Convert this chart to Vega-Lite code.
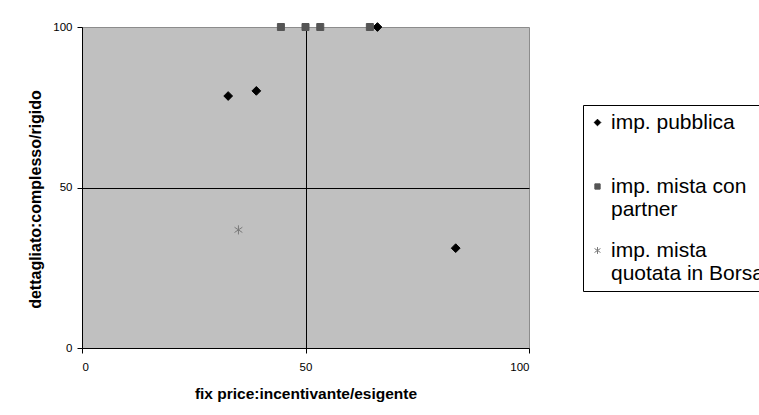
{
  "$schema": "https://vega.github.io/schema/vega-lite/v6.json",
  "autosize": {"type": "none"},
  "width": 447,
  "height": 321,
  "padding": {"left": 82, "top": 27, "right": 230, "bottom": 67},
  "background": "white",
  "data": {
    "values": [
      {"serie": "imp. pubblica", "x": 32.7, "y": 78.5},
      {"serie": "imp. pubblica", "x": 39.0, "y": 80.1},
      {"serie": "imp. pubblica", "x": 66.1, "y": 100},
      {"serie": "imp. pubblica", "x": 83.6, "y": 31.1},
      {"serie": "imp. mista con partner", "x": 44.5, "y": 100},
      {"serie": "imp. mista con partner", "x": 50.0, "y": 100},
      {"serie": "imp. mista con partner", "x": 53.3, "y": 100},
      {"serie": "imp. mista con partner", "x": 64.4, "y": 100},
      {"serie": "imp. mista quotata in Borsa", "x": 35.0, "y": 36.8}
    ]
  },
  "mark": {"type": "point", "filled": true, "strokeWidth": 1, "opacity": 1, "size": 49},
  "encoding": {
    "x": {
      "field": "x", "type": "quantitative",
      "scale": {"domain": [0, 100], "nice": false, "zero": false},
      "axis": {
        "title": "fix price:incentivante/esigente",
        "values": [0, 50, 100],
        "grid": true,
        "gridColor": {"condition": {"test": "datum.value === 50", "value": "black"}, "value": "transparent"},
        "gridWidth": 1,
        "domainColor": "black", "tickColor": "black", "tickSize": 5,
        "labelPadding": 8,
        "labelFont": "Liberation Sans", "labelFontSize": 11.5, "labelColor": "black",
        "titleFont": "Liberation Sans", "titleFontSize": 15.5, "titleFontWeight": "bold", "titleColor": "black",
        "titleX": 223.5, "titleY": 45, "titleBaseline": "middle", "titleAlign": "center"
      }
    },
    "y": {
      "field": "y", "type": "quantitative",
      "scale": {"domain": [0, 100], "nice": false, "zero": false},
      "axis": {
        "title": "dettagliato:complesso/rigido",
        "values": [0, 50, 100],
        "grid": true,
        "gridColor": {"condition": {"test": "datum.value === 50", "value": "black"}, "value": "transparent"},
        "gridWidth": 1,
        "domainColor": "black", "tickColor": "black", "tickSize": 5,
        "labelPadding": 5,
        "labelFont": "Liberation Sans", "labelFontSize": 11.5, "labelColor": "black",
        "titleFont": "Liberation Sans", "titleFontSize": 16, "titleFontWeight": "bold", "titleColor": "black",
        "titleAngle": 270, "titleX": -47, "titleY": 172, "titleBaseline": "middle", "titleAlign": "center"
      }
    },
    "shape": {
      "field": "serie", "type": "nominal",
      "scale": {
        "domain": ["imp. pubblica", "imp. mista con partner", "imp. mista quotata in Borsa"],
        "range": ["M0,-1.25L1.25,0L0,1.25L-1.25,0Z", "square", "M0,-1.3L0,1.3M-1.12,-0.75L1.12,0.75M-1.12,0.75L1.12,-0.75"]
      },
      "legend": {
        "title": null,
        "orient": "none", "legendX": 501, "legendY": 78,
        "strokeColor": "black", "fillColor": "white", "padding": 7,
        "labelFont": "Liberation Sans", "labelFontSize": 21, "labelColor": "black", "labelLimit": 400,
        "labelOffset": 3, "symbolOffset": -3, "labelBaseline": "middle",
        "symbolSize": 28, "symbolStrokeWidth": 1, "rowPadding": 19,
        "labelExpr": "datum.label === 'imp. pubblica' ? ['imp. pubblica', ' '] : datum.label === 'imp. mista con partner' ? ['imp. mista con', 'partner'] : ['imp. mista', 'quotata in Borsa']",
        "encode": {
          "labels": {"update": {"dy": {"value": 12}, "lineHeight": {"value": 24}}}
        }
      }
    },
    "color": {
      "field": "serie", "type": "nominal",
      "scale": {
        "domain": ["imp. pubblica", "imp. mista con partner", "imp. mista quotata in Borsa"],
        "range": ["#000000", "#555555", "#7a7a7a"]
      }
    },
    "stroke": {
      "field": "serie", "type": "nominal",
      "scale": {
        "domain": ["imp. pubblica", "imp. mista con partner", "imp. mista quotata in Borsa"],
        "range": ["#000000", "#555555", "#7a7a7a"]
      }
    }
  },
  "config": {
    "view": {"fill": "#c0c0c0", "stroke": "#8c8c8c", "strokeWidth": 1},
    "font": "Liberation Sans"
  }
}
